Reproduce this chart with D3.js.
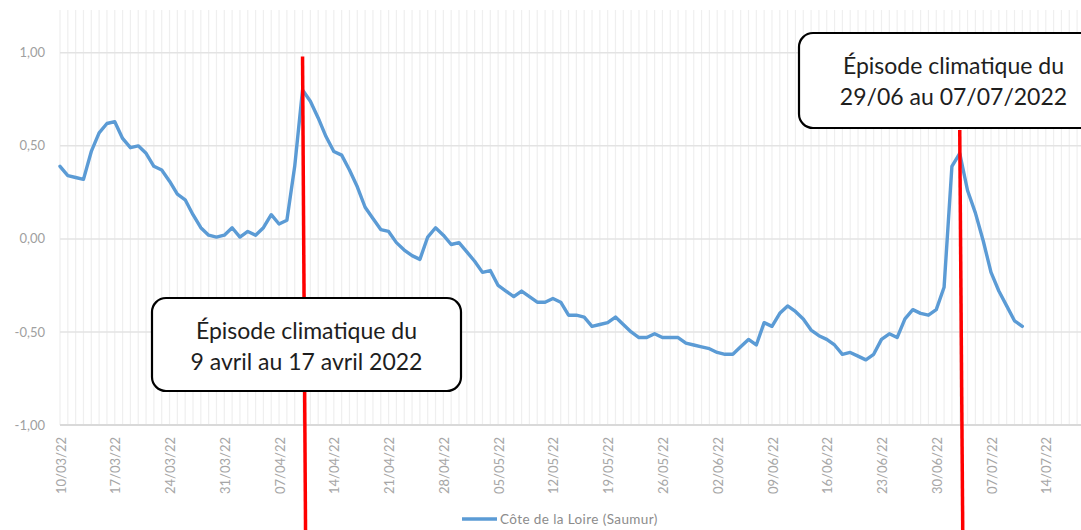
<!DOCTYPE html>
<html>
<head>
<meta charset="utf-8">
<script src="https://cdn.jsdelivr.net/npm/d3@7"></script>
<style>
  html, body { margin: 0; padding: 0; background: #ffffff; }
  svg { display: block; }
</style>
</head>
<body>
<svg id="chart" width="1081" height="530"></svg>
<script>
// ---- Data ----
const startDate = "2022-03-10";
const seriesName = "Côte de la Loire (Saumur)";
const values = [
  0.39, 0.34, 0.33, 0.32, 0.47, 0.57, 0.62, 0.63, 0.54, 0.49,
  0.50, 0.46, 0.39, 0.37, 0.31, 0.24, 0.21, 0.13, 0.06, 0.02,
  0.01, 0.02, 0.06, 0.01, 0.04, 0.02, 0.06, 0.13, 0.08, 0.10,
  0.39, 0.80, 0.74, 0.65, 0.55, 0.47, 0.45, 0.37, 0.28, 0.17,
  0.11, 0.05, 0.04, -0.02, -0.06, -0.09, -0.11, 0.01, 0.06, 0.02,
  -0.03, -0.02, -0.07, -0.12, -0.18, -0.17, -0.25, -0.28, -0.31, -0.28,
  -0.31, -0.34, -0.34, -0.32, -0.34, -0.41, -0.41, -0.42, -0.47, -0.46,
  -0.45, -0.42, -0.46, -0.50, -0.53, -0.53, -0.51, -0.53, -0.53, -0.53,
  -0.56, -0.57, -0.58, -0.59, -0.61, -0.62, -0.62, -0.58, -0.54, -0.57,
  -0.45, -0.47, -0.40, -0.36, -0.39, -0.43, -0.49, -0.52, -0.54, -0.57,
  -0.62, -0.61, -0.63, -0.65, -0.62, -0.54, -0.51, -0.53, -0.43, -0.38,
  -0.40, -0.41, -0.38, -0.26, 0.39, 0.46, 0.26, 0.14, -0.01, -0.18,
  -0.28, -0.36, -0.44, -0.47
];
const xTickLabels = ["10/03/22","17/03/22","24/03/22","31/03/22","07/04/22","14/04/22",
  "21/04/22","28/04/22","05/05/22","12/05/22","19/05/22","26/05/22","02/06/22",
  "09/06/22","16/06/22","23/06/22","30/06/22","07/07/22","14/07/22"];
const yTicks = [-1, -0.5, 0, 0.5, 1];
const yTickLabels = ["-1,00", "-0,50", "0,00", "0,50", "1,00"];
const episodeDates = ["2022-04-10", "2022-07-03"];
const episodeTexts = [
  ["Épisode climatique du", "9 avril au 17 avril 2022"],
  ["Épisode climatique du", "29/06 au 07/07/2022"]
];

// ---- Layout ----
const W = 1081, H = 530;
const plot = { left: 60, right: 1081, top: 10, bottom: 425 };
const svg = d3.select("#chart");

const parseISO = d3.timeParse("%Y-%m-%d");
const parseTick = d3.timeParse("%d/%m/%y");
const t0 = parseISO(startDate);
const xEnd = d3.timeHour.offset(d3.timeDay.offset(t0, 130), 12);
const x = d3.scaleTime().domain([t0, xEnd]).range([plot.left, plot.right]);
const y = d3.scaleLinear().domain([-1, 1.23]).range([plot.bottom, plot.top]);

const data = values.map((v, i) => ({ date: d3.timeDay.offset(t0, i), v }));

// vertical daily gridlines
svg.append("g")
  .selectAll("line")
  .data(d3.timeDay.range(t0, xEnd))
  .join("line")
  .attr("x1", d => x(d)).attr("x2", d => x(d))
  .attr("y1", plot.top).attr("y2", plot.bottom)
  .attr("stroke", "#efefef").attr("stroke-width", 1.2);

// horizontal gridlines
svg.append("g")
  .selectAll("line")
  .data(yTicks)
  .join("line")
  .attr("x1", plot.left).attr("x2", plot.right)
  .attr("y1", d => y(d)).attr("y2", d => y(d))
  .attr("stroke", d => d === -1 ? "#d9d9d9" : "#e3e3e3")
  .attr("stroke-width", d => d === -1 ? 2 : 1.5);

// y labels
svg.append("g")
  .selectAll("text")
  .data(yTicks)
  .join("text")
  .attr("x", 45).attr("y", d => y(d))
  .attr("dy", "0.35em")
  .attr("text-anchor", "end")
  .attr("font-family", "Lato, 'Open Sans', sans-serif")
  .attr("font-size", 13)
  .attr("fill", "#a0a0a0")
  .text((d, i) => yTickLabels[i]);

// x labels
svg.append("g")
  .selectAll("text")
  .data(xTickLabels)
  .join("text")
  .attr("transform", d => `translate(${x(parseTick(d)) + 1},${plot.bottom + 12}) rotate(-90)`)
  .attr("dy", "0.35em")
  .attr("text-anchor", "end")
  .attr("font-family", "Lato, 'Open Sans', sans-serif")
  .attr("font-size", 13)
  .attr("fill", "#a6a6a6")
  .text(d => d);

// series line
const line = d3.line().x(d => x(d.date)).y(d => y(d.v));
svg.append("path")
  .datum(data)
  .attr("d", line)
  .attr("fill", "none")
  .attr("stroke", "#5b9bd5")
  .attr("stroke-width", 3.4)
  .attr("stroke-linejoin", "round")
  .attr("stroke-linecap", "round");

// episode red lines
const redTops = [y(0.98), 130];
episodeDates.forEach((ds, i) => {
  const xd = x(parseISO(ds));
  svg.append("line")
    .attr("x1", xd).attr("y1", redTops[i])
    .attr("x2", xd + 3).attr("y2", H)
    .attr("stroke", "#ff0000").attr("stroke-width", 3.5);
});

// annotation boxes
const boxes = [
  { x: 152, y: 298, w: 309, h: 93 },
  { x: 799, y: 33, w: 309, h: 95 }
];
boxes.forEach((b, i) => {
  const g = svg.append("g");
  g.append("rect")
    .attr("x", b.x).attr("y", b.y).attr("width", b.w).attr("height", b.h)
    .attr("rx", 14).attr("ry", 14)
    .attr("fill", "#ffffff").attr("stroke", "#000000").attr("stroke-width", 2.2);
  g.selectAll("text")
    .data(episodeTexts[i])
    .join("text")
    .attr("x", b.x + b.w / 2)
    .attr("y", (d, j) => b.y + 41 + j * 31)
    .attr("text-anchor", "middle")
    .attr("font-family", "Lato, 'Open Sans', sans-serif")
    .attr("font-size", 23)
    .attr("fill", "#1e1e1e")
    .text(d => d);
});

// legend
const lg = svg.append("g");
lg.append("line")
  .attr("x1", 462).attr("x2", 497).attr("y1", 519).attr("y2", 519)
  .attr("stroke", "#5b9bd5").attr("stroke-width", 3.4);
lg.append("text")
  .attr("x", 500).attr("y", 519).attr("dy", "0.35em")
  .attr("font-family", "Lato, 'Open Sans', sans-serif")
  .attr("font-size", 13.5)
  .attr("letter-spacing", 0.4)
  .attr("fill", "#8c8c8c")
  .text(seriesName);
</script>
</body>
</html>
